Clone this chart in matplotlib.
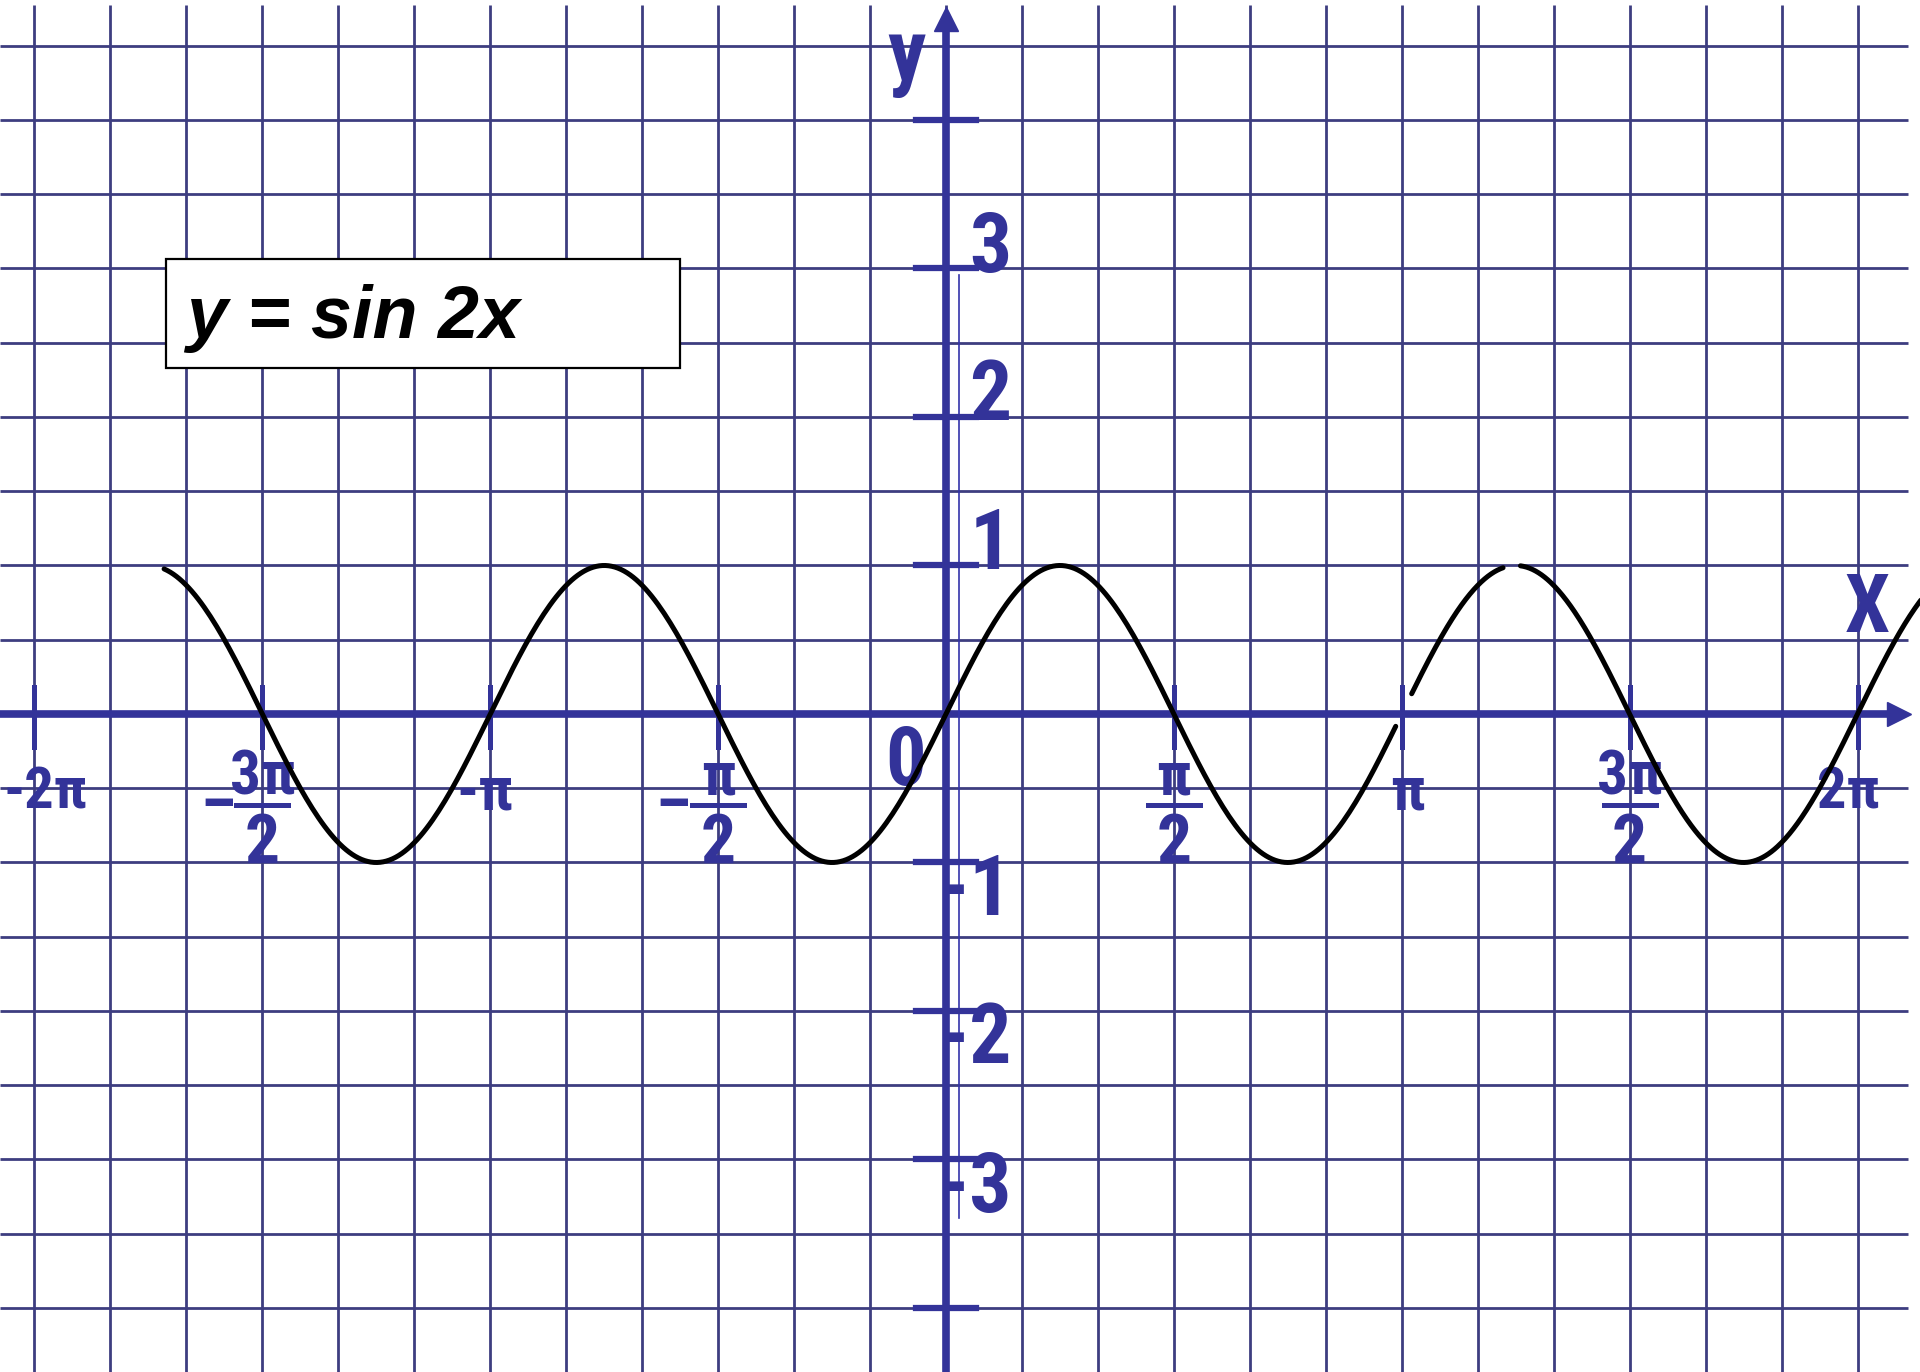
import numpy as np
import matplotlib
matplotlib.use("Agg")
import matplotlib.pyplot as plt
from matplotlib import font_manager as fm
from matplotlib.font_manager import FontProperties
from matplotlib.patches import Rectangle

# --- data ---
grid_x_steps = list(range(-12, 13))          # vertical grid lines, multiples of pi/6
grid_y_vals = [-4.0, -3.5, -3.0, -2.5, -2.0, -1.5, -1.0, -0.5, 0.0,
               0.5, 1.0, 1.5, 2.0, 2.5, 3.0, 3.5, 4.0, 4.5]
x_tick_mult = [-4, -3, -2, -1, 1, 2, 3, 4]   # multiples of pi/2
x_tick_num = ["-2π", "3π", "-π", "π", "π", "π", "3π", "2π"]
x_tick_den = ["", "2", "", "2", "2", "", "2", ""]
y_tick_vals = [-4, -3, -2, -1, 1, 2, 3, 4]
y_tick_labels = ["", "-3", "-2", "-1", "1", "2", "3", ""]
curve_segments = [(-5.39, 3.10), (3.21, 3.84), (3.96, 6.72)]
title_text = "y = sin 2x"

AXIS = "#333399"
GRID = "#3d3d80"

XMIN, XMAX = -6.521, 6.714
YMIN, YMAX = -4.431, 4.808


def pick_condensed():
    bold_w = (600, 700, 800, 900, "bold", "semibold", "demibold", "heavy", "black")
    fonts = [f for f in fm.fontManager.ttflist
             if f.weight in bold_w and f.style == "normal"]
    for name in ["Liberation Sans Narrow", "Roboto Condensed", "DejaVu Sans Condensed",
                 "Noto Sans Condensed", "Open Sans Condensed"]:
        for f in fonts:
            if f.name == name:
                return f.fname
    for f in fonts:
        if "condensed" in str(f.stretch) or "Narrow" in f.name:
            return f.fname
    return None


COND = pick_condensed()


def lab_font(size):
    if COND:
        return FontProperties(fname=COND, size=size)
    return FontProperties(family="Liberation Sans", weight="bold", size=size * 0.85)


fig = plt.figure(figsize=(19.2, 13.72), dpi=100)
ax = fig.add_axes([0, 0, 1, 1])
ax.set_xlim(XMIN, XMAX)
ax.set_ylim(YMIN, YMAX)
ax.axis("off")

# grid
gx = [k * np.pi / 6 for k in grid_x_steps]
ax.vlines(gx, YMIN, 4.774, color=GRID, lw=2.0, zorder=1)
ax.hlines(grid_y_vals, XMIN, 6.628, color=GRID, lw=2.0, zorder=1)

# formula box
ax.add_patch(Rectangle((-5.377, 2.330), 3.543, 0.734, facecolor="white",
                       edgecolor="black", lw=1.6, zorder=2))
ax.text(-5.239, 2.532, title_text, fontsize=53, fontweight="bold",
        fontstyle="italic", family=["Liberation Sans", "DejaVu Sans"],
        ha="left", va="baseline", color="black", zorder=6)

# axes with arrows
ax.plot([XMIN, 6.55], [0, 0], color=AXIS, lw=5.5, zorder=3, solid_capstyle="butt")
ax.plot([0, 0], [YMIN, 4.65], color=AXIS, lw=5.5, zorder=3, solid_capstyle="butt")
ax.plot([6.57], [0], marker=">", ms=17, color=AXIS, zorder=3)
ax.plot([0], [4.68], marker="^", ms=17, color=AXIS, zorder=3)
ax.plot([0.09, 0.09], [-3.394, 2.956], color="#3333aa", lw=1.2, zorder=3)

# x ticks and labels
for m, num, den in zip(x_tick_mult, x_tick_num, x_tick_den):
    xv = m * np.pi / 2
    ax.plot([xv, xv], [-0.22, 0.18], color=AXIS, lw=3.6, zorder=3)
    if den:
        ax.text(xv, -0.43, num, fontproperties=lab_font(44),
                color=AXIS, ha="center", va="center", zorder=4)
        ax.plot([xv - 0.18, xv + 0.18], [-0.61, -0.61], color=AXIS, lw=3.6, zorder=4)
        ax.text(xv, -0.88, den, fontproperties=lab_font(50),
                color=AXIS, ha="center", va="center", zorder=4)
        if m < 0:
            ax.text(xv - 0.31, -0.63, "–", fontproperties=lab_font(46),
                    color=AXIS, ha="center", va="center", zorder=4)
    elif m == -4:
        ax.text(-6.50, -0.53, num, fontproperties=lab_font(42),
                color=AXIS, ha="left", va="center", zorder=4)
    elif m == 4:
        ax.text(xv - 0.06, -0.53, num, fontproperties=lab_font(42),
                color=AXIS, ha="center", va="center", zorder=4)
    else:
        ax.text(xv + (0.04 if m > 0 else -0.04), -0.53, num,
                fontproperties=lab_font(44), color=AXIS,
                ha="center", va="center", zorder=4)

# y ticks and labels
for v, lab in zip(y_tick_vals, y_tick_labels):
    ax.plot([-0.207, 0.207], [v, v], color=AXIS, lw=4.5, zorder=3)
    if lab:
        off = 0.13 if v > 0 else -0.20
        ax.text(0.45, v + off, lab, fontproperties=lab_font(60),
                color=AXIS, ha="right", va="center", zorder=4)

ax.text(-0.276, -0.33, "0", fontproperties=lab_font(58),
        color=AXIS, ha="center", va="center", zorder=4)
ax.text(-0.269, 4.42, "y", fontproperties=lab_font(62),
        color=AXIS, ha="center", va="center", zorder=4)
ax.text(6.349, 0.70, "X", fontproperties=lab_font(58),
        color=AXIS, ha="center", va="center", zorder=4)

# curve y = sin 2x
for a, b in curve_segments:
    xs = np.linspace(a, b, 400)
    ax.plot(xs, np.sin(2 * xs), color="black", lw=3.6, zorder=5,
            solid_capstyle="round")

fig.savefig("out.png", dpi=100)
